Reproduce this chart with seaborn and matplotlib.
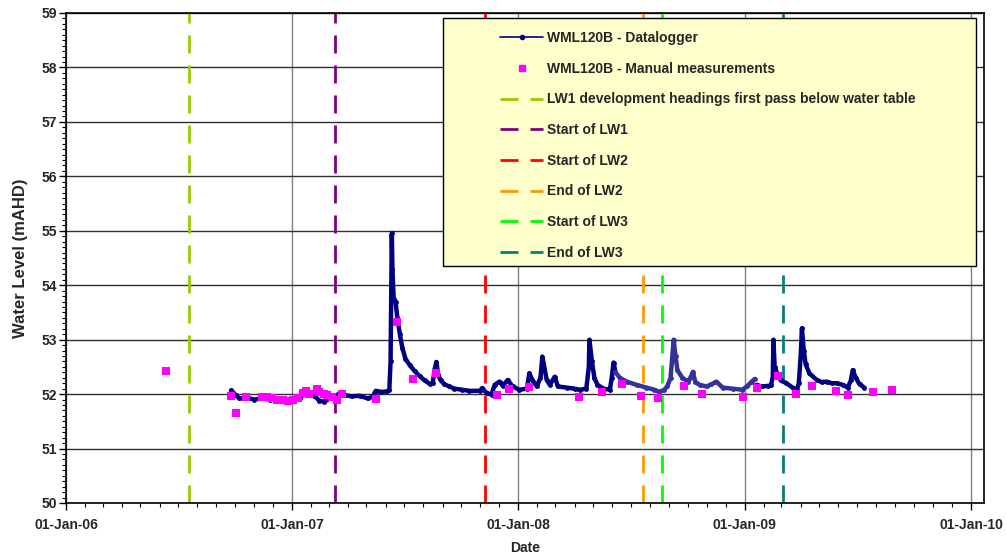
import matplotlib
matplotlib.use("Agg")
import matplotlib.pyplot as plt
import matplotlib.dates as mdates
from matplotlib.lines import Line2D
from matplotlib.patches import Rectangle
from matplotlib.ticker import MultipleLocator
import pandas as pd
import seaborn as sns

# ---- WML120B datalogger record (three download runs) ----
logger_run1_dates = [
    "2006-09-25", "2006-10-02", "2006-10-08", "2006-10-21", "2006-11-01", "2006-11-13",
    "2006-11-26", "2006-12-09", "2006-12-20", "2006-12-31", "2007-01-13", "2007-01-21",
    "2007-01-29", "2007-02-06", "2007-02-14", "2007-02-22", "2007-03-03", "2007-03-11",
    "2007-03-19", "2007-03-27", "2007-04-07", "2007-04-20", "2007-05-03", "2007-05-11",
    "2007-05-16", "2007-05-25", "2007-06-04", "2007-06-07", "2007-06-09", "2007-06-11",
    "2007-06-12", "2007-06-14", "2007-06-17", "2007-06-20", "2007-06-24", "2007-06-28",
    "2007-07-03", "2007-07-10", "2007-07-18", "2007-07-26", "2007-08-03", "2007-08-11",
    "2007-08-16", "2007-08-19", "2007-08-22", "2007-08-25", "2007-08-29", "2007-09-04",
    "2007-09-12", "2007-09-20", "2007-10-03", "2007-10-14", "2007-10-31", "2007-11-04",
    "2007-11-11", "2007-11-19", "2007-11-24", "2007-12-02", "2007-12-07", "2007-12-15",
    "2007-12-23", "2008-01-03", "2008-01-15", "2008-01-19", "2008-01-24", "2008-01-31",
    "2008-02-06", "2008-02-09", "2008-02-16", "2008-02-21", "2008-02-29", "2008-03-05",
    "2008-03-19", "2008-04-01", "2008-04-09", "2008-04-20", "2008-04-24", "2008-04-25",
    "2008-04-29", "2008-05-03", "2008-05-08", "2008-05-18", "2008-05-28", "2008-05-31",
    "2008-06-03", "2008-06-06",
]
logger_run1_levels = [
    52.07, 51.98, 51.92, 51.93, 51.90, 51.92,
    51.90, 51.88, 51.90, 51.88, 51.93, 52.00,
    51.98, 51.97, 51.88, 51.86, 51.92, 51.95,
    52.02, 51.98, 51.96, 51.97, 51.92, 51.95,
    52.06, 52.04, 52.05, 52.08, 52.60, 54.95,
    54.30, 53.75, 53.70, 53.40, 53.10, 52.85,
    52.65, 52.53, 52.42, 52.33, 52.25, 52.19,
    52.20, 52.45, 52.59, 52.35, 52.25, 52.18,
    52.14, 52.10, 52.08, 52.06, 52.06, 52.11,
    52.02, 51.99, 52.17, 52.23, 52.15, 52.26,
    52.14, 52.08, 52.10, 52.38, 52.26, 52.14,
    52.30, 52.69, 52.26, 52.17, 52.32, 52.14,
    52.12, 52.10, 52.08, 52.10, 52.50, 53.00,
    52.60, 52.30, 52.17, 52.10, 52.08, 52.30,
    52.58, 52.40,
]

logger_run2_dates = [
    "2008-06-06", "2008-06-13", "2008-06-24", "2008-07-10", "2008-07-26", "2008-08-08",
    "2008-08-16", "2008-08-24", "2008-08-29", "2008-09-03", "2008-09-08", "2008-09-11",
    "2008-09-14", "2008-09-22", "2008-10-01", "2008-10-05", "2008-10-09", "2008-10-13",
    "2008-10-20", "2008-10-31", "2008-11-08", "2008-11-16", "2008-11-26", "2008-12-12",
    "2008-12-28", "2009-01-05", "2009-01-12", "2009-01-17",
]
logger_run2_levels = [
    52.40, 52.30, 52.23, 52.17, 52.12, 52.08,
    52.04, 52.08, 52.15, 52.30, 53.00, 52.70,
    52.44, 52.30, 52.23, 52.30, 52.41, 52.22,
    52.17, 52.14, 52.18, 52.23, 52.12, 52.10,
    52.08, 52.15, 52.23, 52.28,
]

logger_run3_dates = [
    "2009-01-20", "2009-01-28", "2009-02-07", "2009-02-12", "2009-02-15", "2009-02-16",
    "2009-02-18", "2009-02-23", "2009-02-28", "2009-03-09", "2009-03-19", "2009-03-26",
    "2009-03-29", "2009-04-01", "2009-04-03", "2009-04-06", "2009-04-09", "2009-04-15",
    "2009-04-27", "2009-05-05", "2009-05-13", "2009-05-21", "2009-05-29", "2009-06-08",
    "2009-06-16", "2009-06-21", "2009-06-24", "2009-06-29", "2009-07-05", "2009-07-13",
]
logger_run3_levels = [
    52.17, 52.14, 52.15, 52.16, 52.32, 53.00,
    52.50, 52.35, 52.25, 52.20, 52.12, 52.08,
    52.20, 52.70, 53.21, 52.80, 52.55, 52.38,
    52.26, 52.22, 52.23, 52.20, 52.20, 52.17,
    52.12, 52.25, 52.44, 52.30, 52.18, 52.12,
]

# ---- WML120B manual dip measurements ----
manual_dates = [
    "2006-06-12", "2006-09-25", "2006-10-03", "2006-10-19", "2006-11-14", "2006-11-22",
    "2006-11-30", "2006-12-08", "2006-12-17", "2006-12-25", "2007-01-02", "2007-01-10",
    "2007-01-18", "2007-01-24", "2007-01-29", "2007-02-10", "2007-02-14", "2007-02-22",
    "2007-02-27", "2007-03-07", "2007-03-14", "2007-03-22", "2007-05-16", "2007-06-20",
    "2007-07-15", "2007-08-21", "2007-11-27", "2007-12-17", "2008-01-19", "2008-04-08",
    "2008-05-15", "2008-06-16", "2008-07-17", "2008-08-13", "2008-09-24", "2008-10-23",
    "2008-12-29", "2009-01-20", "2009-02-23", "2009-03-24", "2009-04-19", "2009-05-28",
    "2009-06-16", "2009-07-27", "2009-08-26",
]
manual_levels = [
    52.42, 51.97, 51.65, 51.95, 51.95, 51.95,
    51.92, 51.90, 51.90, 51.88, 51.90, 51.92,
    52.02, 52.05, 52.00, 52.09, 52.03, 52.00,
    51.98, 51.95, 51.90, 52.00, 51.91, 53.33,
    52.28, 52.39, 51.98, 52.10, 52.13, 51.95,
    52.04, 52.19, 51.97, 51.92, 52.15, 52.00,
    51.95, 52.12, 52.34, 52.01, 52.14, 52.05,
    51.99, 52.03, 52.08,
]

# ---- Mining milestones ----
event_labels = [
    "LW1 development headings first pass below water table",
    "Start of LW1",
    "Start of LW2",
    "End of LW2",
    "Start of LW3",
    "End of LW3",
]
event_dates = ["2006-07-19", "2007-03-11", "2007-11-09", "2008-07-20", "2008-08-20", "2009-03-03"]
event_colors = ["#99CC00", "#800080", "#FF0000", "#FF9900", "#00FF00", "#008080"]

x_tick_labels = ["01-Jan-06", "01-Jan-07", "01-Jan-08", "01-Jan-09", "01-Jan-10"]

sns.set_theme(style="white")
plt.rcParams["font.family"] = ["Liberation Sans", "DejaVu Sans"]
plt.rcParams["font.weight"] = "bold"

fig = plt.figure(figsize=(10.07, 5.55), dpi=100)
ax = fig.add_axes([0.0655, 0.0937, 0.9117, 0.8829])

navy = "#000080"
slate = "#333399"
dash_pat = (6.5, 4.3)

runs = [
    (logger_run1_dates, logger_run1_levels, navy),
    (logger_run2_dates, logger_run2_levels, slate),
    (logger_run3_dates, logger_run3_levels, navy),
]
for dates, levels, col in runs:
    df = pd.DataFrame({"date": pd.to_datetime(dates), "level": levels})
    sns.lineplot(data=df, x="date", y="level", ax=ax, color=col, linewidth=3.2,
                 marker="o", markersize=3.5, markeredgewidth=0, estimator=None,
                 sort=False, zorder=3)

manual_df = pd.DataFrame({"date": pd.to_datetime(manual_dates), "level": manual_levels})
sns.scatterplot(data=manual_df, x="date", y="level", ax=ax, color="#FF00FF",
                marker="s", s=30, linewidth=0, zorder=3.5)

for d, c in zip(event_dates, event_colors):
    ax.axvline(pd.Timestamp(d), color=c, linewidth=2.0, dashes=dash_pat, zorder=2)

# Axes ranges, ticks and grid
ax.set_xlim(pd.Timestamp("2006-01-01"), pd.Timestamp("2010-01-22"))
ax.set_ylim(50, 59)
year_ticks = pd.to_datetime(["2006-01-01", "2007-01-01", "2008-01-01", "2009-01-01", "2010-01-01"])
ax.set_xticks(year_ticks)
ax.set_xticklabels(x_tick_labels)
ax.xaxis.set_minor_locator(mdates.MonthLocator())
ax.yaxis.set_major_locator(MultipleLocator(1))
ax.yaxis.set_minor_locator(MultipleLocator(0.1))

ax.set_axisbelow(True)
ax.grid(False)
ax.yaxis.grid(True, which="major", color="#303030", linewidth=1.0)
ax.xaxis.grid(True, which="major", color="#808080", linewidth=1.0)

ax.tick_params(axis="both", which="major", direction="out", length=5, width=1,
               color="black", labelsize=10, pad=1.5, bottom=True, left=True)
ax.tick_params(axis="both", which="minor", direction="out", length=3, width=0.8,
               color="black", bottom=True, left=True)
ax.tick_params(axis="x", which="major", pad=6)
for lab in ax.get_xticklabels() + ax.get_yticklabels():
    lab.set_fontweight("bold")

for sp in ax.spines.values():
    sp.set_visible(True)
    sp.set_color("black")
    sp.set_linewidth(1.2)

ax.set_ylabel("Water Level (mAHD)", fontsize=12, fontweight="bold", labelpad=10)
ax.set_xlabel("Date", fontsize=10, fontweight="bold", labelpad=6)

# Legend panel
panel = Rectangle((0.4107, 0.4837), 0.5806, 0.5061, transform=ax.transAxes,
                  facecolor="#FFFFCC", edgecolor="black", linewidth=1.0, zorder=4)
ax.add_patch(panel)

handles = [
    Line2D([], [], color=navy, linewidth=1.2, marker="o", markersize=3),
    Line2D([], [], color="#FF00FF", linestyle="none", marker="s", markersize=4),
]
for c in event_colors:
    handles.append(Line2D([], [], color=c, linewidth=2.0, dashes=dash_pat))
labels = ["WML120B - Datalogger", "WML120B - Manual measurements"] + event_labels

leg = ax.legend(handles, labels, loc="upper left", bbox_to_anchor=(0.4728, 0.963),
                frameon=False, numpoints=1, handlelength=3.1,
                handletextpad=0.25, labelspacing=1.2, borderpad=0, borderaxespad=0,
                prop={"weight": "bold", "size": 10})
leg.set_zorder(5)

fig.savefig("out.png", dpi=100)
